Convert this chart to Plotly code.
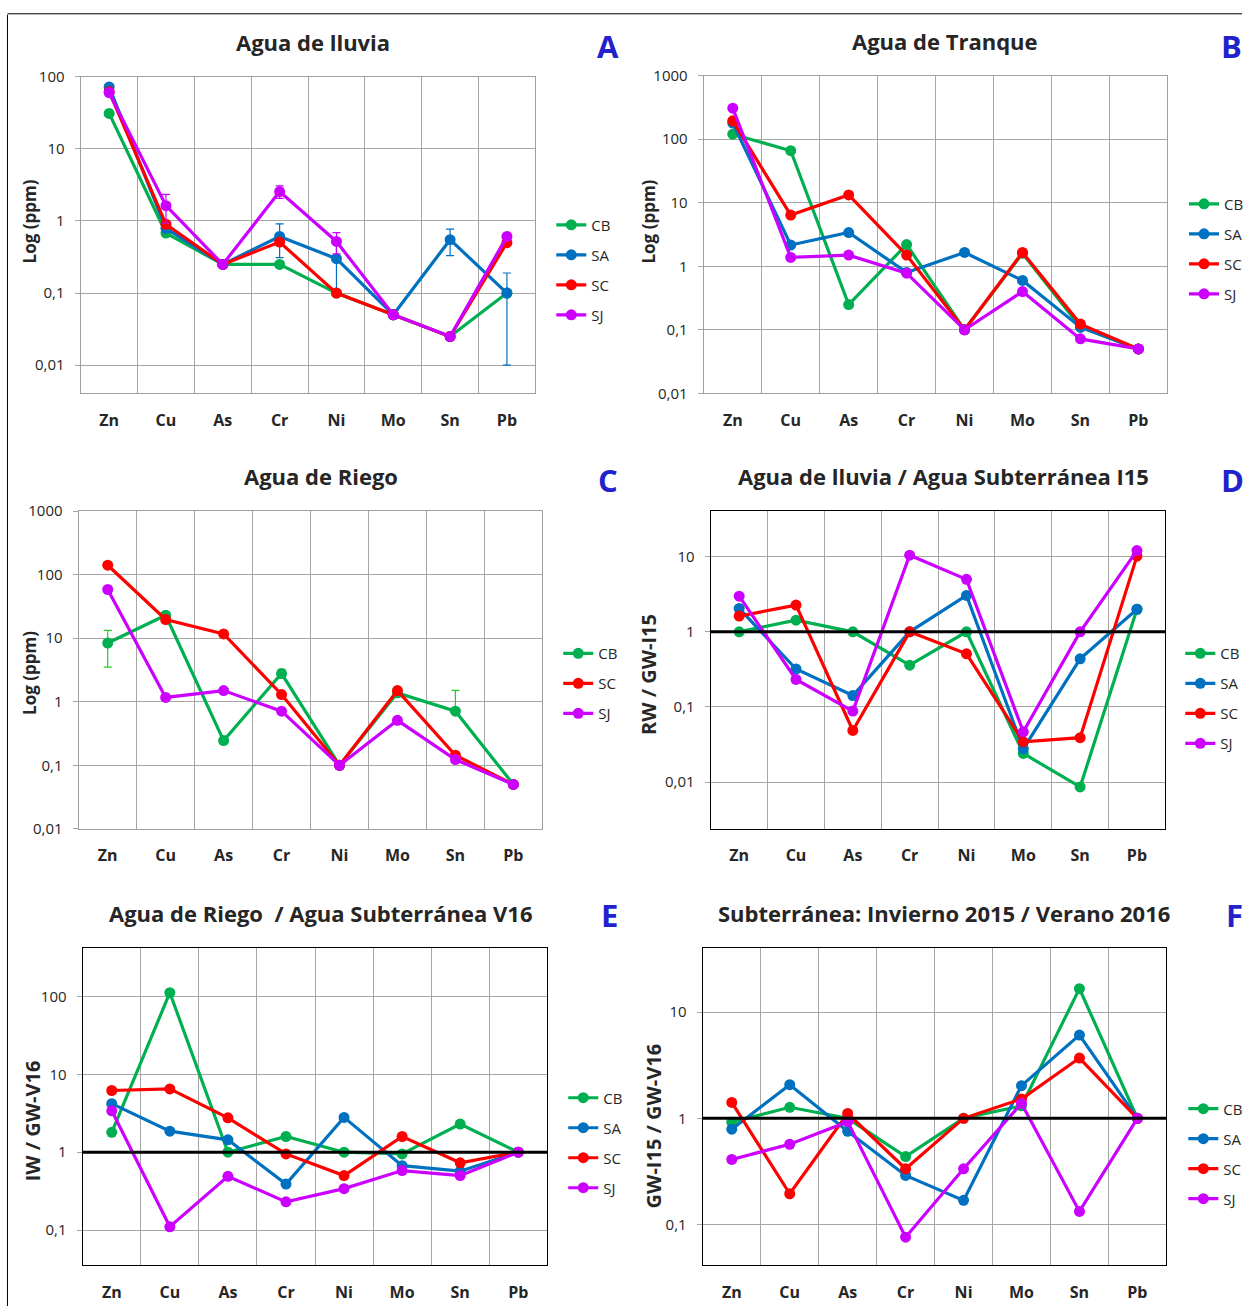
import plotly.graph_objects as go

W, H = 1249, 1315
FONT = "Open Sans"

CATS = ["Zn", "Cu", "As", "Cr", "Ni", "Mo", "Sn", "Pb"]
SERIES_COLORS = {"CB": "#00B050", "SA": "#0070C0", "SC": "#FF0000", "SJ": "#CC00FF"}
ERR_COLORS = {"CB": "#22CC22", "SA": "#0070C0", "SC": "#FF0000", "SJ": "#CC00FF"}

# ---------------- Panel A: Agua de lluvia (ppm) ----------------
A_CB = [31, 0.68, 0.25, 0.25, 0.1, 0.05, 0.025, 0.1]
A_SA = [72, 0.79, 0.25, 0.61, 0.3, 0.05, 0.55, 0.1]
A_SC = [62, 0.9, 0.25, 0.51, 0.1, 0.05, 0.025, 0.5]
A_SJ = [60, 1.63, 0.25, 2.56, 0.52, 0.05, 0.025, 0.61]
A_SA_ERR = [0, 0, 0, 0.3, 0.2, 0, 0.22, 0.09]
A_SJ_ERR = [0, 0.7, 0, 0.5, 0.17, 0, 0, 0]

# ---------------- Panel B: Agua de Tranque (ppm) ----------------
B_CB = [120, 66, 0.25, 2.2, 0.1, 1.6, 0.11, 0.05]
B_SA = [180, 2.16, 3.4, 0.8, 1.65, 0.6, 0.11, 0.05]
B_SC = [195, 6.4, 13.3, 1.5, 0.1, 1.65, 0.123, 0.05]
B_SJ = [308, 1.38, 1.5, 0.78, 0.1, 0.4, 0.072, 0.05]

# ---------------- Panel C: Agua de Riego (ppm) ----------------
C_CB = [8.4, 23, 0.245, 2.78, 0.1, 1.38, 0.71, 0.05]
C_SC = [141, 19.7, 11.7, 1.3, 0.1, 1.5, 0.144, 0.05]
C_SJ = [58.5, 1.17, 1.5, 0.71, 0.1, 0.51, 0.123, 0.05]
C_CB_ERR_PLUS = [4.9, 0, 0, 0.45, 0, 0, 0.8, 0]
C_CB_ERR_MINUS = [4.9, 0, 0, 0.45, 0, 0, 0, 0]

# ---------------- Panel D: RW / GW-I15 ----------------
D_CB = [1.0, 1.43, 1.0, 0.36, 1.0, 0.024, 0.0086, 2.0]
D_SA = [2.05, 0.32, 0.142, 1.0, 3.05, 0.0277, 0.437, 2.0]
D_SC = [1.62, 2.27, 0.0486, 1.0, 0.51, 0.0343, 0.039, 10.2]
D_SJ = [2.99, 0.232, 0.088, 10.5, 5.0, 0.0467, 1.0, 12.1]

# ---------------- Panel E: IW / GW-V16 ----------------
E_CB = [1.8, 112, 1.0, 1.59, 1.0, 0.95, 2.3, 1.0]
E_SA = [4.2, 1.86, 1.44, 0.39, 2.8, 0.67, 0.57, 1.0]
E_SC = [6.2, 6.5, 2.76, 0.95, 0.5, 1.59, 0.73, 1.0]
E_SJ = [3.4, 0.11, 0.49, 0.23, 0.34, 0.58, 0.5, 1.0]

# ---------------- Panel F: GW-I15 / GW-V16 ----------------
F_CB = [0.92, 1.27, 1.0, 0.437, 1.0, 1.31, 16.6, 1.0]
F_SA = [0.79, 2.07, 0.755, 0.29, 0.169, 2.03, 6.07, 1.0]
F_SC = [1.41, 0.195, 1.11, 0.335, 1.0, 1.52, 3.69, 1.0]
F_SJ = [0.41, 0.57, 0.93, 0.076, 0.335, 1.38, 0.133, 1.0]

REF_LINE_VALUE = 1

TICKS_PPM_A = [0.01, 0.1, 1, 10, 100]
TICKS_PPM_B = [0.01, 0.1, 1, 10, 100, 1000]
TICKS_D = [0.01, 0.1, 1, 10]
TICKS_E = [0.1, 1, 10, 100]
TICKS_F = [0.1, 1, 10]


def fmt(v):
    return ("%g" % v).replace(".", ",")


panels = [
    dict(key="A", title="Agua de lluvia", ytitle="Log (ppm)",
         series={"CB": A_CB, "SA": A_SA, "SC": A_SC, "SJ": A_SJ},
         err={"SA": (A_SA_ERR, A_SA_ERR), "SJ": (A_SJ_ERR, A_SJ_ERR)},
         px=(81, 537), py=(75, 392), yr=(-2.39, 2.0), ticks=TICKS_PPM_A,
         frame="#A0A0A0", ref=False,
         title_xy=(314, 40), letter_xy=(610, 44), ytitle_xy=(30, 220), ytitle_size=17,
         legend_xy=(553, 207)),
    dict(key="B", title="Agua de Tranque", ytitle="Log (ppm)",
         series={"CB": B_CB, "SA": B_SA, "SC": B_SC, "SJ": B_SJ},
         err={},
         px=(706, 1171), py=(74, 392), yr=(-2.0, 3.0), ticks=TICKS_PPM_B,
         frame="#A0A0A0", ref=False,
         title_xy=(948, 39), letter_xy=(1235, 44), ytitle_xy=(651, 220), ytitle_size=17,
         legend_xy=(1188, 186)),
    dict(key="C", title="Agua de Riego", ytitle="Log (ppm)",
         series={"CB": C_CB, "SC": C_SC, "SJ": C_SJ},
         err={"CB": (C_CB_ERR_PLUS, C_CB_ERR_MINUS)},
         px=(79, 544), py=(510, 828), yr=(-2.0, 3.0), ticks=TICKS_PPM_B,
         frame="#A0A0A0", ref=False,
         title_xy=(322, 475), letter_xy=(610, 479), ytitle_xy=(30, 672), ytitle_size=17,
         legend_xy=(560, 636)),
    dict(key="D", title="Agua de lluvia / Agua Subterránea I15", ytitle="RW / GW-I15",
         series={"CB": D_CB, "SA": D_SA, "SC": D_SC, "SJ": D_SJ},
         err={},
         px=(713, 1169), py=(510, 828), yr=(-2.623, 1.607), ticks=TICKS_D,
         frame="#000000", ref=True,
         title_xy=(946, 475), letter_xy=(1236, 479), ytitle_xy=(651, 673), ytitle_size=20,
         legend_xy=(1184, 636)),
    dict(key="E", title="Agua de Riego  / Agua Subterránea V16", ytitle="IW / GW-V16",
         series={"CB": E_CB, "SA": E_SA, "SC": E_SC, "SJ": E_SJ},
         err={},
         px=(83, 549), py=(947, 1265), yr=(-1.453, 2.628), ticks=TICKS_E,
         frame="#000000", ref=True,
         title_xy=(322, 912), letter_xy=(611, 914), ytitle_xy=(33, 1120), ytitle_size=20,
         legend_xy=(565, 1081)),
    dict(key="F", title="Subterránea: Invierno 2015 / Verano 2016", ytitle="GW-I15 / GW-V16",
         series={"CB": F_CB, "SA": F_SA, "SC": F_SC, "SJ": F_SJ},
         err={},
         px=(705, 1170), py=(947, 1265), yr=(-1.383, 1.606), ticks=TICKS_F,
         frame="#000000", ref=True,
         title_xy=(947, 912), letter_xy=(1238, 914), ytitle_xy=(655, 1125), ytitle_size=20,
         legend_xy=(1187, 1092)),
]

# empirical correction for the capture (slight vertical squeeze around the centre)
SX, SY, OY = 0.9975, 0.986, 9.2


def fx(p):
    return (p / SX) / W


def fy(p):
    return 1 - ((p - OY) / SY) / H


fig = go.Figure()
layout = dict(
    width=W, height=H, margin=dict(l=0, r=0, t=0, b=0),
    paper_bgcolor="white", plot_bgcolor="white",
    font=dict(family=FONT, color="#262626"),
    annotations=[], shapes=[],
)

for i, p in enumerate(panels):
    n = "" if i == 0 else str(i + 1)
    xa, ya = "x" + n, "y" + n
    lg = "legend" + n
    for name, vals in p["series"].items():
        e = p["err"].get(name)
        err = None
        if e is not None:
            err = dict(type="data", array=e[0], arrayminus=e[1], visible=True,
                       color=ERR_COLORS[name], thickness=1.2, width=4)
        fig.add_trace(go.Scatter(
            x=CATS, y=vals, name=name, mode="lines+markers",
            line=dict(color=SERIES_COLORS[name], width=3.2),
            marker=dict(color=SERIES_COLORS[name], size=11),
            error_y=err, xaxis=xa, yaxis=ya, legend=lg,
            legendgroup=p["key"] + name, showlegend=True,
        ))
    layout["xaxis" + n] = dict(
        domain=[fx(p["px"][0]), fx(p["px"][1])], anchor=ya,
        type="category", categoryorder="array", categoryarray=CATS,
        range=[-0.5, len(CATS) - 0.5], tickson="boundaries",
        showgrid=True, gridcolor="#A6A6A6", gridwidth=1,
        showline=True, linecolor=p["frame"], linewidth=1.3, mirror=True,
        ticks="", ticklabelstandoff=12,
        tickfont=dict(family=FONT, size=16, color="#262626", weight="bold"),
        zeroline=False,
    )
    layout["yaxis" + n] = dict(
        domain=[fy(p["py"][1]), fy(p["py"][0])], anchor=xa,
        type="log", range=list(p["yr"]),
        tickvals=p["ticks"], ticktext=[fmt(v) for v in p["ticks"]],
        showgrid=True, gridcolor="#A6A6A6", gridwidth=1,
        showline=True, linecolor=p["frame"], linewidth=1.3, mirror=True,
        ticks="outside", ticklen=5, tickcolor="#A6A6A6", ticklabelstandoff=7,
        tickfont=dict(family=FONT, size=15, color="#262626"),
        zeroline=False,
    )
    layout[lg] = dict(
        x=fx(p["legend_xy"][0]), y=fy(p["legend_xy"][1]), xanchor="left", yanchor="top",
        bgcolor="rgba(0,0,0,0)", tracegroupgap=7.5, itemwidth=30,
        font=dict(family=FONT, size=15, color="#262626"),
    )
    if p["ref"]:
        layout["shapes"].append(dict(
            type="line", xref=xa + " domain", x0=0, x1=1, yref=ya,
            y0=REF_LINE_VALUE, y1=REF_LINE_VALUE, line=dict(color="black", width=3),
        ))
    layout["annotations"].append(dict(
        text="<b>%s</b>" % p["title"], x=fx(p["title_xy"][0]), y=fy(p["title_xy"][1]),
        xref="paper", yref="paper", xanchor="center", yanchor="middle", showarrow=False,
        font=dict(family=FONT, size=22, color="#262626"),
    ))
    layout["annotations"].append(dict(
        text="<b>%s</b>" % p["key"], x=fx(p["letter_xy"][0]), y=fy(p["letter_xy"][1]),
        xref="paper", yref="paper", xanchor="center", yanchor="middle", showarrow=False,
        font=dict(family=FONT, size=31, color="#2222CC"),
    ))
    layout["annotations"].append(dict(
        text="<b>%s</b>" % p["ytitle"], x=fx(p["ytitle_xy"][0]), y=fy(p["ytitle_xy"][1]),
        xref="paper", yref="paper", xanchor="center", yanchor="middle", showarrow=False,
        textangle=-90, font=dict(family=FONT, size=p["ytitle_size"], color="#262626"),
    ))

# outer frame lines (left and top)
layout["shapes"].append(dict(type="line", xref="paper", yref="paper",
                             x0=fx(7.5), x1=fx(7.5), y0=0, y1=fy(13),
                             line=dict(color="black", width=1)))
layout["shapes"].append(dict(type="line", xref="paper", yref="paper",
                             x0=fx(7.5), x1=1, y0=fy(12), y1=fy(12),
                             line=dict(color="black", width=1)))

fig.update_layout(**layout)
fig.write_html("out.html", config={"displayModeBar": False},
               post_script="document.body.style.margin='0';document.body.style.overflow='hidden';")
